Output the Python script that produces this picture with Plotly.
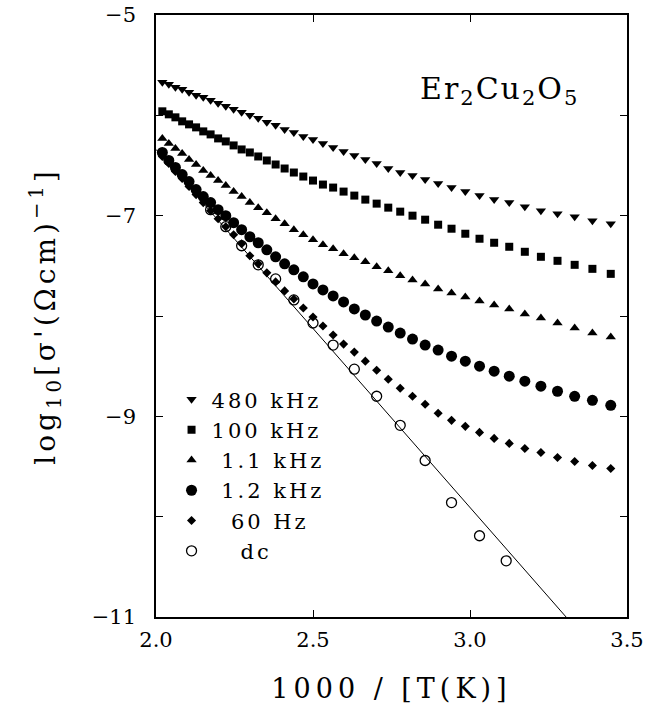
import plotly.graph_objects as go

# Temperatures (K) of the ac measurements; x = 1000 / T
temps = [495, 490, 485, 480, 475, 470, 465, 460, 455, 450, 445, 440, 435, 430,
         425, 420, 415, 410, 405, 400, 395, 390, 385, 380, 375, 370, 365, 360,
         355, 350, 345, 340, 335, 330, 325, 320, 315, 310, 305, 300, 295, 290]

s_480k = [-5.67, -5.69, -5.72, -5.74, -5.77, -5.80, -5.82, -5.85, -5.88, -5.91,
          -5.94, -5.97, -6.00, -6.03, -6.07, -6.10, -6.14, -6.17, -6.21, -6.24,
          -6.28, -6.32, -6.36, -6.40, -6.44, -6.48, -6.53, -6.57, -6.60, -6.64,
          -6.68, -6.72, -6.76, -6.80, -6.84, -6.87, -6.91, -6.95, -6.98, -7.01,
          -7.05, -7.08]
s_100k = [-5.96, -5.99, -6.02, -6.06, -6.09, -6.12, -6.16, -6.19, -6.23, -6.26,
          -6.30, -6.34, -6.37, -6.41, -6.45, -6.49, -6.53, -6.57, -6.61, -6.65,
          -6.69, -6.72, -6.76, -6.80, -6.84, -6.88, -6.92, -6.96, -7.00, -7.04,
          -7.09, -7.13, -7.18, -7.23, -7.27, -7.31, -7.36, -7.41, -7.45, -7.49,
          -7.53, -7.58]
s_1p1k = [-6.23, -6.28, -6.33, -6.38, -6.44, -6.49, -6.55, -6.60, -6.65, -6.70,
          -6.76, -6.81, -6.87, -6.92, -6.97, -7.03, -7.08, -7.14, -7.19, -7.24,
          -7.29, -7.33, -7.38, -7.42, -7.46, -7.51, -7.55, -7.60, -7.64, -7.68,
          -7.73, -7.77, -7.81, -7.85, -7.89, -7.93, -7.98, -8.02, -8.07, -8.12,
          -8.17, -8.21]
s_1p2k = [-6.37, -6.45, -6.52, -6.59, -6.66, -6.74, -6.81, -6.87, -6.94, -7.00,
          -7.07, -7.14, -7.21, -7.27, -7.34, -7.41, -7.48, -7.54, -7.61, -7.68,
          -7.74, -7.80, -7.86, -7.93, -7.99, -8.05, -8.11, -8.17, -8.23, -8.29,
          -8.34, -8.40, -8.45, -8.50, -8.55, -8.60, -8.65, -8.70, -8.75, -8.80,
          -8.84, -8.89]
s_60 = [-6.41, -6.48, -6.56, -6.63, -6.71, -6.79, -6.87, -6.95, -7.03, -7.11,
        -7.19, -7.28, -7.40, -7.48, -7.57, -7.66, -7.75, -7.83, -7.92, -8.01,
        -8.10, -8.19, -8.28, -8.36, -8.45, -8.54, -8.63, -8.72, -8.80, -8.88,
        -8.97, -9.04, -9.10, -9.16, -9.22, -9.27, -9.32, -9.36, -9.41, -9.45,
        -9.49, -9.52]

# dc conductivity
dc_temps = [460, 450, 440, 430, 420, 410, 400, 390, 380, 370, 360, 350, 340, 330, 321]
dc_vals = [-6.94, -7.11, -7.30, -7.49, -7.63, -7.84, -8.07, -8.29, -8.53, -8.80,
           -9.09, -9.44, -9.86, -10.19, -10.44]

# Arrhenius fit line to dc data
fit_x = [2.0, 3.306]
fit_y = [-6.34, -11.0]

x_tick_vals = [2.0, 2.5, 3.0, 3.5]
x_tick_text = ["2.0", "2.5", "3.0", "3.5"]
y_tick_vals = [-5, -7, -9, -11]
y_tick_text = ["\u22125", "\u22127", "\u22129", "\u221211"]
y_minor_vals = [-6, -8, -10]

labels = ["480 kHz", "100 kHz", "1.1 kHz", "1.2 kHz", "60 Hz", "dc"]
label_indent = [0, 0, 1, 1, 2, 3]

xs = [1000.0 / t for t in temps]
xdc = [1000.0 / t for t in dc_temps]

FONT = "DejaVu Serif"


def spaced(txt, ls):
    return '<span style="letter-spacing:%dpx">%s</span>' % (ls, txt)


def legend_name(i):
    return spaced("\u00a0" * label_indent[i] + labels[i], 3)


fig = go.Figure()

series = [
    (s_480k, "triangle-down", 9),
    (s_100k, "square", 8),
    (s_1p1k, "triangle-up", 9),
    (s_1p2k, "circle", 11),
    (s_60, "diamond", 7),
]
for i, (vals, sym, sz) in enumerate(series):
    fig.add_trace(go.Scatter(
        x=xs, y=vals, mode="markers", name=legend_name(i),
        marker=dict(symbol=sym, size=sz, color="black", line=dict(width=0)),
        cliponaxis=False,
    ))

fig.add_trace(go.Scatter(
    x=fit_x, y=fit_y, mode="lines", showlegend=False,
    line=dict(color="black", width=1),
))
fig.add_trace(go.Scatter(
    x=xdc, y=dc_vals, mode="markers", name=legend_name(5),
    marker=dict(symbol="circle-open", size=10, color="black", line=dict(width=1.3, color="black")),
    cliponaxis=False,
))

fig.add_annotation(
    x=0.73, y=0.875, xref="paper", yref="paper", xanchor="center", yanchor="middle",
    text=spaced("Er<sub>2</sub>Cu<sub>2</sub>O<sub>5</sub>", 2), showarrow=False,
    font=dict(family=FONT, size=30, color="black"),
)

axis_common = dict(
    showline=True, linecolor="black", linewidth=1.5, mirror="ticks",
    ticks="inside", ticklen=7, tickwidth=1.2, tickcolor="black",
    showgrid=False, zeroline=False, automargin=False, ticklabeloverflow="allow",
    tickfont=dict(family=FONT, size=21, color="black"),
)

fig.update_xaxes(
    range=[2.0, 3.5], tickmode="array", tickvals=x_tick_vals, ticktext=x_tick_text,
    ticklabelstandoff=3,
    title=dict(text=spaced("1000 / [T(K)]", 5),
               font=dict(family=FONT, size=27, color="black"), standoff=28),
    **axis_common,
)
fig.update_yaxes(
    range=[-11, -5], tickmode="array", tickvals=y_tick_vals, ticktext=y_tick_text,
    ticklabelstandoff=14,
    minor=dict(tickmode="array", tickvals=y_minor_vals, ticks="inside", ticklen=7,
               tickwidth=1.2, tickcolor="black"),
    title=dict(text=spaced("log<sub>10</sub>[\u03c3'(\u03a9cm)<sup>\u22121</sup>]", 4),
               font=dict(family=FONT, size=28, color="black"), standoff=28),
    **axis_common,
)

fig.update_layout(
    width=659, height=710,
    margin=dict(l=156, r=32, t=15, b=93),
    plot_bgcolor="white", paper_bgcolor="white",
    showlegend=True,
    legend=dict(
        x=0.033, y=0.395, xanchor="left", yanchor="top",
        bgcolor="rgba(0,0,0,0)", borderwidth=0,
        font=dict(family=FONT, size=21, color="black"),
        itemwidth=30, tracegroupgap=0,
    ),
    font=dict(family=FONT, color="black"),
)

fig.write_html("out.html", config={"displayModeBar": False},
               post_script="document.body.style.margin='0';")
